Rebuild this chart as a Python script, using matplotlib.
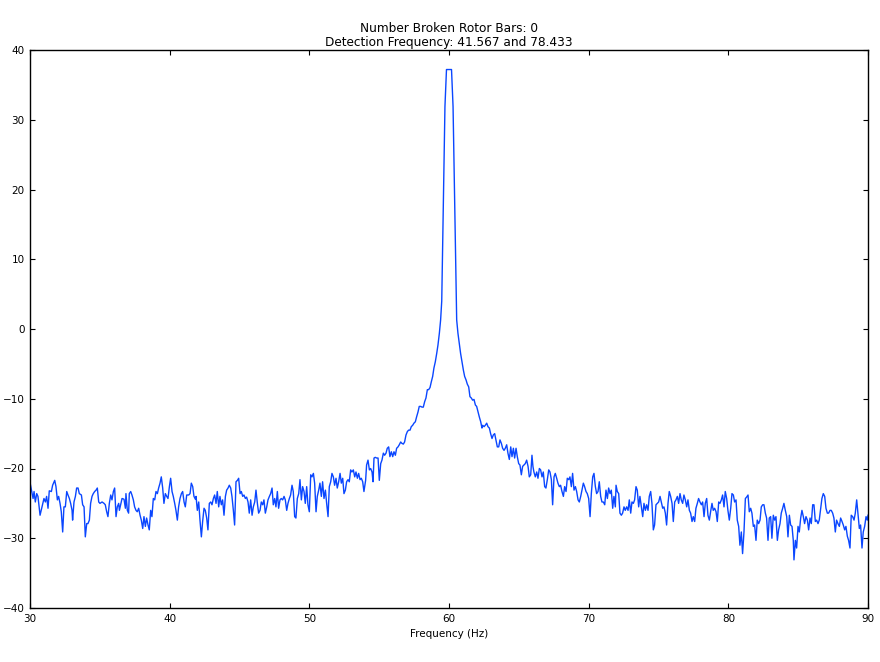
import matplotlib
matplotlib.use("Agg")
import matplotlib.pyplot as plt

# ---- data ----
freq_a = [30.00, 30.22, 30.29, 30.38, 30.48, 30.57, 30.72, 30.86, 31.00, 31.10, 31.19, 31.29, 31.38, 31.53,
          31.62, 31.77, 31.86, 31.96, 32.05, 32.15, 32.24, 32.34, 32.43, 32.53, 32.63, 32.72, 32.82, 32.91,
          33.01, 33.05, 33.15, 33.25, 33.34, 33.44, 33.53, 33.68, 33.77, 33.87, 33.96, 34.06, 34.15, 34.25,
          34.34, 34.44, 34.53, 34.63, 34.73, 34.82, 34.92, 35.01, 35.16, 35.30, 35.39, 35.49, 35.58, 35.68,
          35.78]
level_a = [-22.0, -24.3, -23.3, -24.8, -23.6, -24.0, -26.7, -25.5, -24.3, -24.8, -24.0, -25.7, -23.2, -23.3,
           -22.4, -21.7, -22.6, -24.5, -24.0, -25.0, -26.2, -29.1, -25.5, -25.5, -23.3, -23.8, -24.3, -25.0,
           -26.0, -27.4, -24.8, -24.0, -22.8, -22.8, -23.6, -23.8, -25.2, -25.5, -29.8, -27.9, -27.9, -27.4,
           -25.0, -24.0, -23.6, -23.3, -23.1, -22.8, -24.8, -25.0, -24.8, -25.0, -25.2, -26.2, -26.9, -25.0,
           -23.8]

freq_b = [35.87, 35.97, 36.06, 36.16, 36.25, 36.35, 36.40, 36.49, 36.59, 36.73, 36.83, 36.87, 36.97, 37.06,
          37.11, 37.21, 37.30, 37.40, 37.49, 37.59, 37.68, 37.78, 37.88, 37.97, 38.07, 38.16, 38.26, 38.35,
          38.45, 38.54, 38.64, 38.73, 38.83, 38.93, 39.02, 39.12, 39.21, 39.31, 39.40, 39.50, 39.59, 39.69,
          39.79, 39.88, 39.98, 40.07, 40.17, 40.26, 40.36, 40.45, 40.55, 40.64, 40.74, 40.84, 40.93, 41.03,
          41.12, 41.22, 41.36, 41.46, 41.55, 41.65, 41.74, 41.84]
level_b = [-24.5, -23.3, -22.8, -26.9, -25.5, -25.0, -26.0, -25.2, -24.3, -24.4, -25.7, -23.6, -26.0, -26.4,
           -23.6, -23.3, -23.8, -24.5, -25.5, -26.0, -26.2, -25.7, -26.7, -27.4, -28.6, -26.9, -28.3, -27.1,
           -28.1, -28.8, -26.0, -26.9, -24.3, -24.5, -23.3, -23.6, -22.8, -22.1, -21.2, -22.8, -25.0, -23.6,
           -24.0, -24.3, -22.6, -21.4, -23.3, -24.0, -25.0, -26.0, -27.4, -25.5, -24.3, -23.6, -23.3, -24.8,
           -25.5, -23.8, -23.8, -23.6, -22.1, -22.6, -24.0, -24.4]

freq_c = [41.89, 41.98, 42.08, 42.17, 42.27, 42.36, 42.46, 42.55, 42.65, 42.74, 42.84, 42.94, 43.03, 43.13,
          43.22, 43.32, 43.41, 43.51, 43.60, 43.70, 43.79, 43.89, 43.99, 44.08, 44.18, 44.27, 44.37, 44.46,
          44.56, 44.65, 44.75, 44.85, 44.94, 45.04, 45.13, 45.23, 45.32, 45.42, 45.51, 45.61, 45.70, 45.80,
          45.90, 45.99, 46.09, 46.18, 46.28, 46.37, 46.47, 46.56, 46.66, 46.75, 46.85, 46.95, 47.04, 47.14,
          47.23, 47.33, 47.42, 47.52, 47.61, 47.71, 47.80, 47.90]
level_c = [-24.0, -26.0, -24.8, -27.4, -29.8, -27.6, -25.7, -26.0, -27.1, -28.8, -25.0, -24.8, -25.2, -24.3,
           -23.8, -25.0, -23.3, -25.5, -24.0, -25.2, -24.5, -26.7, -24.0, -23.1, -22.8, -22.4, -22.8, -24.0,
           -26.0, -28.1, -21.9, -21.7, -21.4, -23.6, -23.3, -24.0, -23.8, -24.3, -24.1, -24.8, -26.4, -24.5,
           -26.7, -25.5, -24.8, -23.1, -25.0, -26.4, -26.0, -24.8, -25.2, -24.5, -26.4, -25.5, -24.5, -24.0,
           -23.6, -22.8, -25.2, -24.3, -25.5, -23.3, -25.7, -24.5]

freq_d = [47.99, 48.09, 48.19, 48.28, 48.38, 48.47, 48.57, 48.66, 48.76, 48.85, 48.95, 49.04, 49.14, 49.24,
          49.33, 49.43, 49.52, 49.62, 49.71, 49.81, 49.90, 50.00, 50.10, 50.19, 50.29, 50.38, 50.48, 50.57,
          50.67, 50.76, 50.86, 50.95, 51.05, 51.15, 51.24, 51.34, 51.43, 51.53, 51.62, 51.72, 51.81, 51.91,
          52.00, 52.10, 52.20, 52.29, 52.39, 52.48, 52.58, 52.67, 52.77, 52.86, 52.96, 53.05, 53.15, 53.25,
          53.34, 53.44, 53.53, 53.63, 53.72, 53.82]
level_d = [-24.3, -24.5, -24.0, -24.5, -26.0, -25.0, -24.3, -23.8, -22.4, -23.3, -26.9, -27.1, -24.3, -23.6,
           -21.6, -24.5, -22.6, -23.3, -25.0, -22.6, -25.2, -26.2, -20.9, -21.2, -20.7, -22.1, -26.2, -24.0,
           -23.1, -22.1, -24.0, -21.9, -24.3, -23.1, -25.0, -26.9, -22.6, -21.9, -20.7, -21.2, -22.4, -21.4,
           -22.8, -21.9, -20.7, -22.1, -21.4, -23.6, -23.1, -21.9, -21.6, -21.9, -20.2, -20.5, -20.2, -21.2,
           -20.5, -21.4, -20.7, -21.6, -21.4, -21.9]

freq_e = [53.91, 54.03, 54.10, 54.20, 54.30, 54.39, 54.49, 54.56, 54.63, 54.72, 54.82, 54.92, 55.01, 55.11,
          55.20, 55.30, 55.39, 55.49, 55.58, 55.68, 55.77, 55.87, 55.97, 56.06, 56.16, 56.25, 56.35, 56.44,
          56.54, 56.63, 56.73, 56.82, 56.92, 57.02, 57.11, 57.21, 57.30, 57.40, 57.49, 57.59, 57.68, 57.78,
          57.87, 57.97, 58.07, 58.16, 58.26, 58.35, 58.45, 58.54, 58.64, 58.73, 58.83, 58.92, 59.02, 59.12,
          59.21, 59.31, 59.40]
level_e = [-23.3, -21.7, -19.5, -18.8, -20.2, -20.0, -20.5, -21.9, -18.5, -18.4, -18.5, -18.5, -21.7, -19.3,
           -18.8, -17.8, -18.1, -17.8, -17.1, -16.9, -18.3, -17.6, -18.3, -17.6, -18.1, -17.1, -16.9, -16.6,
           -16.2, -16.4, -16.5, -16.2, -15.2, -14.7, -14.5, -14.5, -14.0, -13.8, -13.5, -13.3, -12.6, -11.9,
           -11.1, -11.1, -11.2, -11.2, -10.4, -9.9, -8.7, -8.7, -8.4, -7.6, -6.8, -5.6, -4.7, -3.5,
           -2.3, -0.6, 1.3]

freq_peak = [59.48, 59.56, 59.63, 59.71, 59.82, 60.18, 60.29, 60.37, 60.44, 60.50, 60.55]
level_peak = [4.0, 13.5, 22.3, 31.9, 37.2, 37.2, 31.9, 22.3, 13.5, 6.0, 1.3]

freq_f = [60.64, 60.74, 60.83, 60.93, 61.03, 61.12, 61.22, 61.31, 61.41, 61.50, 61.60, 61.69, 61.79, 61.89,
          61.98, 62.08, 62.17, 62.27, 62.36, 62.41, 62.51, 62.60, 62.70, 62.79, 62.89, 62.98, 63.08, 63.17,
          63.27, 63.36, 63.46, 63.56, 63.65, 63.75, 63.84, 63.94, 64.03, 64.13, 64.22, 64.32, 64.42, 64.51,
          64.61, 64.70, 64.80, 64.89, 64.99, 65.08, 65.18, 65.27, 65.37, 65.46, 65.56, 65.66, 65.75, 65.85]
level_f = [-0.6, -2.1, -3.5, -4.7, -5.9, -6.8, -7.3, -7.9, -8.3, -9.7, -9.9, -10.2, -10.1, -10.9,
           -11.1, -11.9, -12.6, -13.3, -14.2, -13.8, -14.0, -13.8, -13.5, -14.0, -14.2, -15.0, -15.7, -15.2,
           -15.0, -15.9, -16.9, -16.9, -15.9, -16.4, -17.1, -17.4, -17.1, -16.6, -17.8, -18.7, -16.9, -18.3,
           -17.1, -18.5, -17.1, -18.3, -19.3, -19.5, -20.9, -19.7, -19.5, -19.3, -18.8, -19.7, -21.2, -20.9]

freq_g = [65.94, 66.01, 66.08, 66.18, 66.28, 66.37, 66.47, 66.56, 66.66, 66.75, 66.85, 66.94, 67.04, 67.14,
          67.23, 67.33, 67.42, 67.52, 67.61, 67.71, 67.80, 67.90, 67.99, 68.09, 68.19, 68.28, 68.38, 68.47,
          68.57, 68.66, 68.76, 68.85, 68.95, 69.05, 69.14, 69.24, 69.33, 69.43, 69.52, 69.62, 69.71, 69.81,
          69.90, 70.00, 70.10, 70.19, 70.29, 70.38, 70.48, 70.57, 70.67, 70.76, 70.86, 70.95, 71.05, 71.15,
          71.24, 71.34, 71.43, 71.53, 71.62, 71.72, 71.81, 71.91]
level_g = [-18.1, -19.7, -20.5, -21.2, -20.5, -21.4, -20.0, -20.2, -21.2, -20.5, -22.6, -22.8, -21.6, -20.2,
           -20.5, -21.6, -25.2, -21.2, -20.7, -21.4, -22.1, -22.6, -22.4, -23.3, -24.0, -22.6, -23.3, -21.4,
           -21.6, -21.2, -22.6, -20.7, -23.1, -22.6, -23.3, -24.5, -24.8, -24.0, -23.1, -22.1, -22.6, -23.3,
           -23.6, -24.3, -26.9, -23.6, -21.2, -20.7, -22.6, -23.6, -23.3, -21.9, -24.0, -24.8, -24.8, -25.2,
           -23.1, -24.3, -22.8, -23.6, -23.1, -25.7, -24.0, -25.5]

freq_h = [71.96, 72.05, 72.15, 72.24, 72.34, 72.43, 72.53, 72.62, 72.72, 72.82, 72.91, 73.01, 73.10, 73.20,
          73.29, 73.39, 73.48, 73.58, 73.67, 73.77, 73.87, 73.96, 74.06, 74.15, 74.25, 74.34, 74.44, 74.53,
          74.63, 74.72, 74.82, 74.92, 75.01, 75.11, 75.20, 75.30, 75.39, 75.49, 75.58, 75.68, 75.77, 75.87,
          75.97, 76.06, 76.16, 76.25, 76.35, 76.44, 76.54, 76.63, 76.73, 76.82, 76.92, 77.02, 77.11, 77.21,
          77.30, 77.40, 77.49, 77.59, 77.68, 77.78, 77.87]
level_h = [-22.4, -23.3, -23.6, -26.4, -26.7, -26.4, -25.5, -26.0, -25.5, -26.0, -24.5, -26.4, -24.8, -25.0,
           -24.5, -22.6, -23.1, -25.5, -24.0, -25.5, -26.9, -25.0, -26.0, -25.2, -26.0, -24.0, -23.3, -25.0,
           -28.8, -28.1, -25.2, -25.0, -24.8, -24.0, -24.8, -25.7, -25.5, -26.4, -28.1, -25.0, -23.3, -24.0,
           -25.0, -27.6, -24.8, -24.5, -24.0, -25.0, -23.6, -24.5, -25.0, -23.8, -24.5, -25.5, -24.5, -26.0,
           -26.4, -27.6, -26.9, -27.6, -25.7, -25.0, -24.3]

freq_i = [77.97, 78.07, 78.16, 78.26, 78.35, 78.45, 78.54, 78.64, 78.73, 78.83, 78.92, 79.02, 79.12, 79.21,
          79.31, 79.40, 79.50, 79.59, 79.69, 79.78, 79.88, 79.97, 80.07, 80.17, 80.26, 80.36, 80.45, 80.55,
          80.64, 80.74, 80.83, 80.93, 81.02, 81.12, 81.22, 81.31, 81.41, 81.50, 81.60, 81.69, 81.79, 81.88,
          81.98, 82.07, 82.17, 82.27, 82.36, 82.46, 82.55, 82.65, 82.74, 82.84, 82.93, 83.03, 83.12, 83.22,
          83.32, 83.41, 83.51, 83.60, 83.70, 83.79, 83.89]
level_i = [-24.8, -25.2, -24.8, -26.9, -25.0, -24.3, -26.7, -27.4, -26.2, -25.0, -26.0, -25.7, -26.2, -27.6,
           -24.8, -25.0, -24.5, -23.8, -25.5, -23.3, -24.3, -26.0, -27.4, -25.7, -23.6, -23.8, -24.8, -24.5,
           -27.4, -28.3, -31.0, -29.1, -32.2, -29.1, -24.3, -24.1, -23.8, -26.2, -25.7, -26.4, -28.3, -28.1,
           -30.3, -27.4, -27.9, -27.4, -25.5, -25.2, -25.2, -26.4, -27.1, -30.3, -27.1, -26.9, -30.0, -26.7,
           -27.4, -26.9, -30.3, -28.8, -27.9, -26.4, -25.7]

freq_j = [83.98, 84.08, 84.18, 84.27, 84.37, 84.46, 84.56, 84.65, 84.70, 84.80, 84.89, 84.99, 85.08, 85.18,
          85.27, 85.37, 85.46, 85.56, 85.66, 85.75, 85.85, 85.94, 86.04, 86.13, 86.23, 86.32, 86.42, 86.51,
          86.61, 86.70, 86.80, 86.90, 86.99, 87.09, 87.18, 87.28, 87.37, 87.47, 87.56, 87.66, 87.75, 87.85,
          87.95, 88.04, 88.14, 88.23, 88.33, 88.42, 88.52, 88.61, 88.71, 88.80, 88.90, 89.00, 89.09, 89.19,
          89.28, 89.38, 89.47, 89.57, 89.66, 89.76, 89.86, 89.95, 90.00]
level_j = [-25.0, -26.0, -26.9, -29.8, -26.7, -28.1, -28.3, -30.3, -33.1, -30.3, -31.4, -28.3, -29.1, -27.1,
           -26.0, -26.9, -27.9, -26.9, -27.4, -28.8, -27.1, -27.9, -25.2, -25.2, -27.6, -27.4, -27.9, -27.4,
           -25.7, -24.3, -23.6, -24.0, -25.7, -26.4, -26.4, -26.0, -26.0, -26.4, -27.1, -29.1, -27.4, -27.9,
           -28.3, -27.1, -27.6, -28.1, -28.8, -28.3, -29.7, -30.3, -31.4, -26.7, -26.9, -27.4, -26.4, -24.5,
           -26.4, -28.6, -28.1, -31.4, -29.1, -28.3, -26.9, -27.4, -26.7]

title_lines = ["Number Broken Rotor Bars: 0", "Detection Frequency: 41.567 and 78.433"]
x_label = "Frequency (Hz)"
x_ticks = [30, 40, 50, 60, 70, 80, 90]
y_ticks = [-40, -30, -20, -10, 0, 10, 20, 30, 40]

freq = (freq_a + freq_b + freq_c + freq_d + freq_e + freq_peak + freq_f
        + freq_g + freq_h + freq_i + freq_j)
level = (level_a + level_b + level_c + level_d + level_e + level_peak + level_f
         + level_g + level_h + level_i + level_j)

# ---- plot ----
plt.rcParams['font.family'] = ['DejaVu Sans']
fig = plt.figure(figsize=(8.8, 6.62), dpi=100, facecolor='white')
ax = fig.add_axes([30 / 880, 1 - 608 / 662, 838 / 880, 558 / 662])
ax.plot(freq, level, color='#0a46ff', linewidth=1.0, solid_joinstyle='round')
ax.set_xlim(30, 90)
ax.set_ylim(-40, 40)
ax.set_xticks(x_ticks)
ax.set_yticks(y_ticks)
ax.tick_params(direction='in', top=True, right=True, length=3.5, width=0.8,
               labelsize=7.5, pad=4)
for s in ax.spines.values():
    s.set_linewidth(1.0)
    s.set_color('black')
ax.set_title("\n".join(title_lines), fontsize=8.7, pad=3, linespacing=1.1)
ax.set_xlabel(x_label, fontsize=7.5, labelpad=4)
fig.savefig("out.png", dpi=100, facecolor='white')
